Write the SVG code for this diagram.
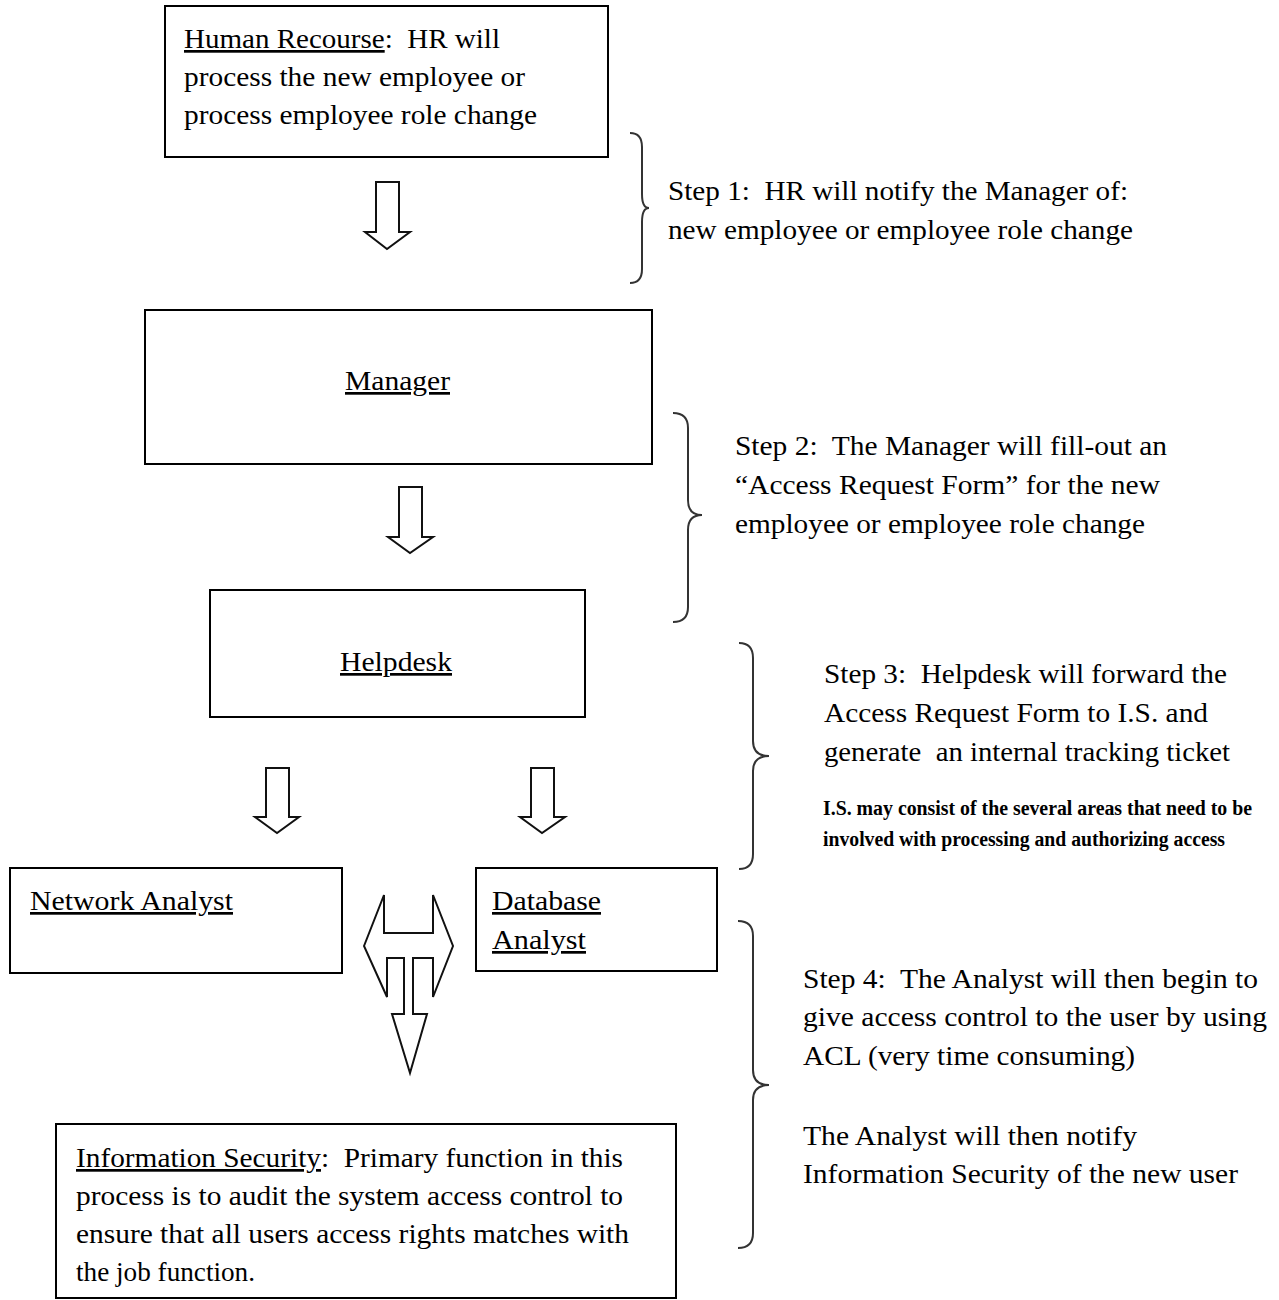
<svg xmlns="http://www.w3.org/2000/svg" width="1279" height="1300" viewBox="0 0 1279 1300">
<style>
.box{fill:#fff;stroke:#000;stroke-width:2}
.arr{fill:#fff;stroke:#111;stroke-width:2;stroke-linejoin:miter}
.brace{fill:none;stroke:#333;stroke-width:2}
text{font-family:"Liberation Serif","Times New Roman",serif;font-size:27px;fill:#000;white-space:pre}
.u{text-decoration:underline}
.b{font-weight:bold;font-size:20px}
</style>
<rect width="1279" height="1300" fill="#fff"/>
<g id="hr">
<rect class="box" x="165" y="6" width="443" height="151"/>
<text x="184" y="48" textLength="316" lengthAdjust="spacingAndGlyphs"><tspan class="u">Human Recourse</tspan>:  HR will</text>
<text x="184" y="86" textLength="341" lengthAdjust="spacingAndGlyphs">process the new employee or</text>
<text x="184" y="124" textLength="353" lengthAdjust="spacingAndGlyphs">process employee role change</text>
</g>
<g id="manager">
<rect class="box" x="145" y="310" width="507" height="154"/>
<text x="345" y="390" textLength="105" lengthAdjust="spacingAndGlyphs" class="u">Manager</text>
</g>
<g id="helpdesk">
<rect class="box" x="210" y="590" width="375" height="127"/>
<text x="340" y="671" textLength="112" lengthAdjust="spacingAndGlyphs" class="u">Helpdesk</text>
</g>
<g id="network">
<rect class="box" x="10" y="868" width="332" height="105"/>
<text x="30" y="910" textLength="203" lengthAdjust="spacingAndGlyphs" class="u">Network Analyst</text>
</g>
<g id="database">
<rect class="box" x="476" y="868" width="241" height="103"/>
<text x="492" y="910" textLength="109" lengthAdjust="spacingAndGlyphs" class="u">Database</text>
<text x="492" y="949" textLength="94" lengthAdjust="spacingAndGlyphs" class="u">Analyst</text>
</g>
<g id="infosec">
<rect class="box" x="56" y="1124" width="620" height="174"/>
<text x="76" y="1167" textLength="547" lengthAdjust="spacingAndGlyphs"><tspan class="u">Information Security</tspan>:  Primary function in this</text>
<text x="76" y="1205" textLength="547" lengthAdjust="spacingAndGlyphs">process is to audit the system access control to</text>
<text x="76" y="1243" textLength="553" lengthAdjust="spacingAndGlyphs">ensure that all users access rights matches with</text>
<text x="76" y="1281" textLength="179" lengthAdjust="spacingAndGlyphs">the job function.</text>
</g>
<g id="connectors">
<polygon class="arr" points="376,182 399,182 399,232 410,232 387,249 365,232 376,232"/>
<polygon class="arr" points="399,487 422,487 422,537 433,537 410,553 388,537 399,537"/>
<polygon class="arr" points="266,768 289,768 289,817 299,817 277,833 255,817 266,817"/>
<polygon class="arr" points="531,768 554,768 554,817 565,817 542,833 520,817 531,817"/>
<polygon class="arr" points="364,946 384,895 384,933 433,933 433,895 453,946 433,997 433,958 413,958 413,1014 427,1014 410,1073 392,1014 404,1014 404,958 387,958 387,997"/>
</g>
<g id="step1">
<path class="brace" d="M630,133 Q642,133 642,147 L642,194 Q642,208 649,208 Q642,208 642,222 L642,269 Q642,283 630,283"/>
<text x="668" y="200" textLength="460" lengthAdjust="spacingAndGlyphs">Step 1:  HR will notify the Manager of:</text>
<text x="668" y="239" textLength="465" lengthAdjust="spacingAndGlyphs">new employee or employee role change</text>
</g>
<g id="step2">
<path class="brace" d="M673,413 Q688,413 688,428 L688,500 Q688,515 702,515 Q688,515 688,530 L688,607 Q688,622 673,622"/>
<text x="735" y="455" textLength="432" lengthAdjust="spacingAndGlyphs">Step 2:  The Manager will fill-out an</text>
<text x="735" y="494" textLength="425" lengthAdjust="spacingAndGlyphs">“Access Request Form” for the new</text>
<text x="735" y="533" textLength="410" lengthAdjust="spacingAndGlyphs">employee or employee role change</text>
</g>
<g id="step3">
<path class="brace" d="M739,643 Q753,643 753,658 L753,741 Q753,756 769,756 Q753,756 753,771 L753,854 Q753,869 739,869"/>
<text x="824" y="683" textLength="403" lengthAdjust="spacingAndGlyphs">Step 3:  Helpdesk will forward the</text>
<text x="824" y="722" textLength="384" lengthAdjust="spacingAndGlyphs">Access Request Form to I.S. and</text>
<text x="824" y="761" textLength="406" lengthAdjust="spacingAndGlyphs">generate  an internal tracking ticket</text>
<text class="b" x="823" y="815" textLength="429" lengthAdjust="spacingAndGlyphs">I.S. may consist of the several areas that need to be</text>
<text class="b" x="823" y="846" textLength="402" lengthAdjust="spacingAndGlyphs">involved with processing and authorizing access</text>
</g>
<g id="step4">
<path class="brace" d="M738,921 Q753,921 753,936 L753,1070 Q753,1085 769,1085 Q753,1085 753,1100 L753,1233 Q753,1248 738,1248"/>
<text x="803" y="988" textLength="455" lengthAdjust="spacingAndGlyphs">Step 4:  The Analyst will then begin to</text>
<text x="803" y="1026" textLength="464" lengthAdjust="spacingAndGlyphs">give access control to the user by using</text>
<text x="803" y="1065" textLength="332" lengthAdjust="spacingAndGlyphs">ACL (very time consuming)</text>
<text x="803" y="1145" textLength="334" lengthAdjust="spacingAndGlyphs">The Analyst will then notify</text>
<text x="803" y="1183" textLength="435" lengthAdjust="spacingAndGlyphs">Information Security of the new user</text>
</g>
</svg>
